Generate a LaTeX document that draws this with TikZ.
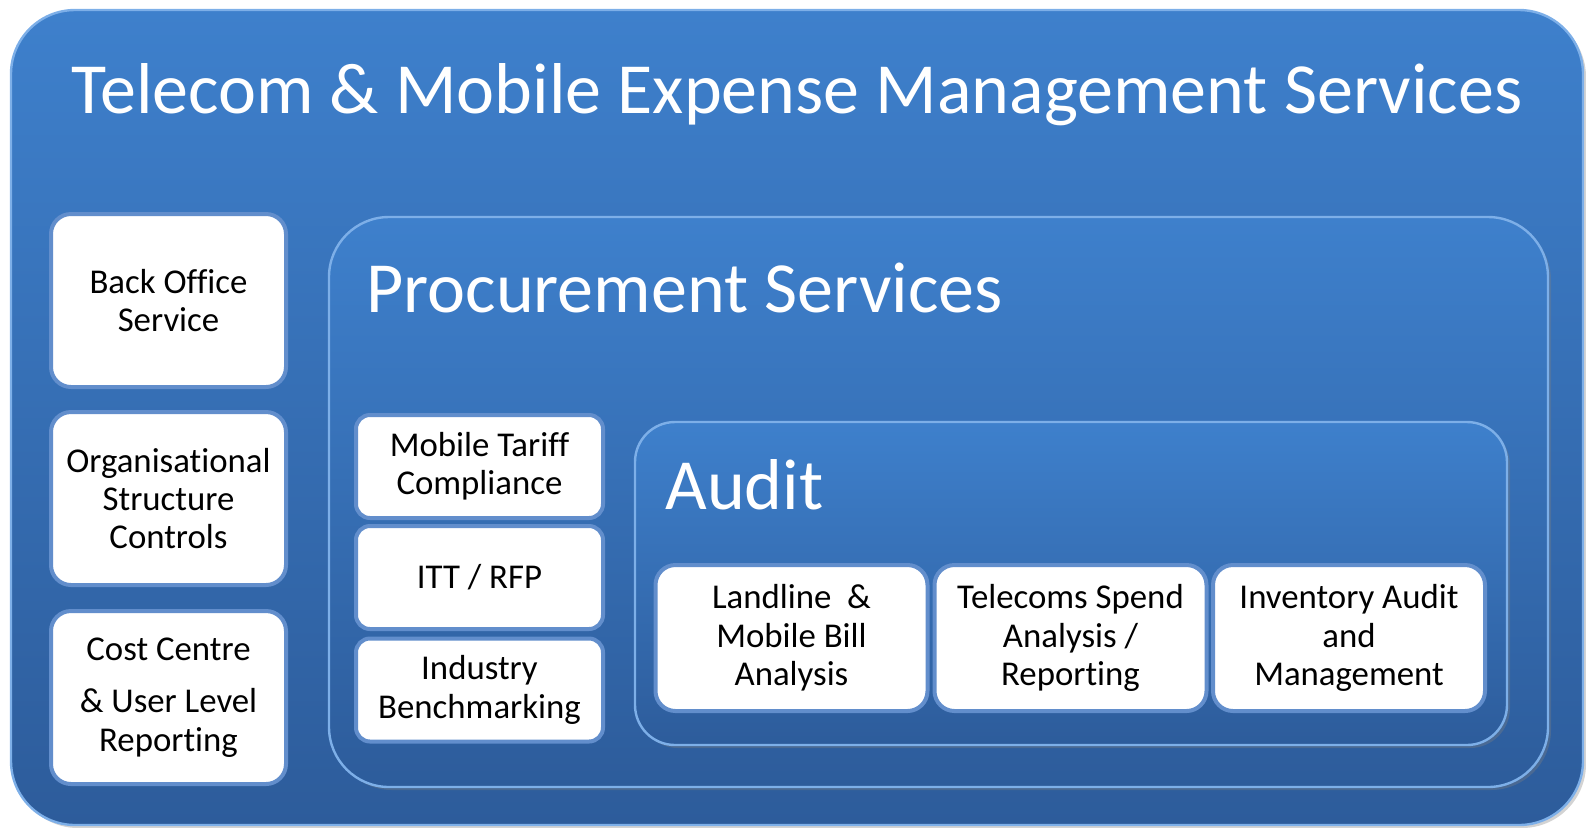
\documentclass[tikz,border=0pt]{standalone}
\usepackage{fontspec}
\setmainfont[Ligatures=NoCommon]{Carlito}
\usetikzlibrary{shadows}
\definecolor{paneltop}{RGB}{62,128,204}
\definecolor{panelbot}{RGB}{45,92,155}
\definecolor{paneledge}{RGB}{125,175,232}
\definecolor{boxring}{RGB}{98,142,204}
\def \bodyfont {\fontsize{17.4}{19.2}\selectfont}
\def \titlefont {\fontsize{36}{44}\selectfont}
\def \headfont {\fontsize{36}{44}\selectfont}
\tikzset{
  panel/.style={rounded corners=#1, top color=paneltop, bottom color=panelbot,
    draw=paneledge, line width=1.2pt,
    drop shadow={opacity=0.35, shadow xshift=1.5pt, shadow yshift=-1.5pt}},
  whitebox/.style={rounded corners=#1, fill=white, draw=boxring, line width=2pt,
    align=center, font=\bodyfont, text=black, inner sep=0pt},
  leftbox/.style={whitebox=10pt, minimum width=117.5pt, minimum height=86.5pt},
  midbox/.style={whitebox=7pt, minimum width=123.5pt, minimum height=51.5pt},
  auditbox/.style={whitebox=10pt, minimum width=136pt, minimum height=73pt},
  heading/.style={text=white, inner sep=0pt}
}
\begin{document}
\begin{tikzpicture}[x=0.5pt,y=-0.5pt]
\useasboundingbox (0,0) rectangle (1586,827);
% Draw the outside panel
\draw[panel=32pt] (11,10) rectangle (1583,825);
\node[heading, font=\titlefont, anchor=base] (maintitle) at (797,113)
  {Telecom \& Mobile Expense Management Services};
% Draw the left column
\foreach \name/\y/\txt in {backoffice/300.5/{Back Office\\Service},
  orgcontrols/498.5/{Organisational\\Structure\\Controls},
  costcentre/697.5/{Cost Centre\\[7pt]\& User Level\\Reporting}}
  \node[leftbox] (\name) at (168.5,\y) {\txt};
% Draw the procurement panel
\draw[panel=30pt] (329,217) rectangle (1548,787);
\node[heading, font=\headfont, anchor=base west] (proctitle) at (366,312)
  {Procurement Services};
\foreach \name/\y/\txt in {tariff/466.5/{Mobile Tariff\\Compliance},
  ittrfp/577.5/{ITT / RFP},
  benchmark/690/{Industry\\Benchmarking}}
  \node[midbox] (\name) at (479.5,\y) {\txt};
% Draw the audit panel
\draw[panel=20pt] (635,422) rectangle (1507,745);
\node[heading, font=\headfont, anchor=base west] (audittitle) at (665,509)
  {Audit};
\foreach \name/\x/\txt in {billanalysis/791.5/{Landline \ \&\\Mobile Bill\\Analysis},
  spend/1070.5/{Telecoms Spend\\Analysis /\\Reporting},
  inventory/1349/{Inventory Audit\\and\\Management}}
  \node[auditbox] (\name) at (\x,638) {\txt};
\end{tikzpicture}
\end{document}
